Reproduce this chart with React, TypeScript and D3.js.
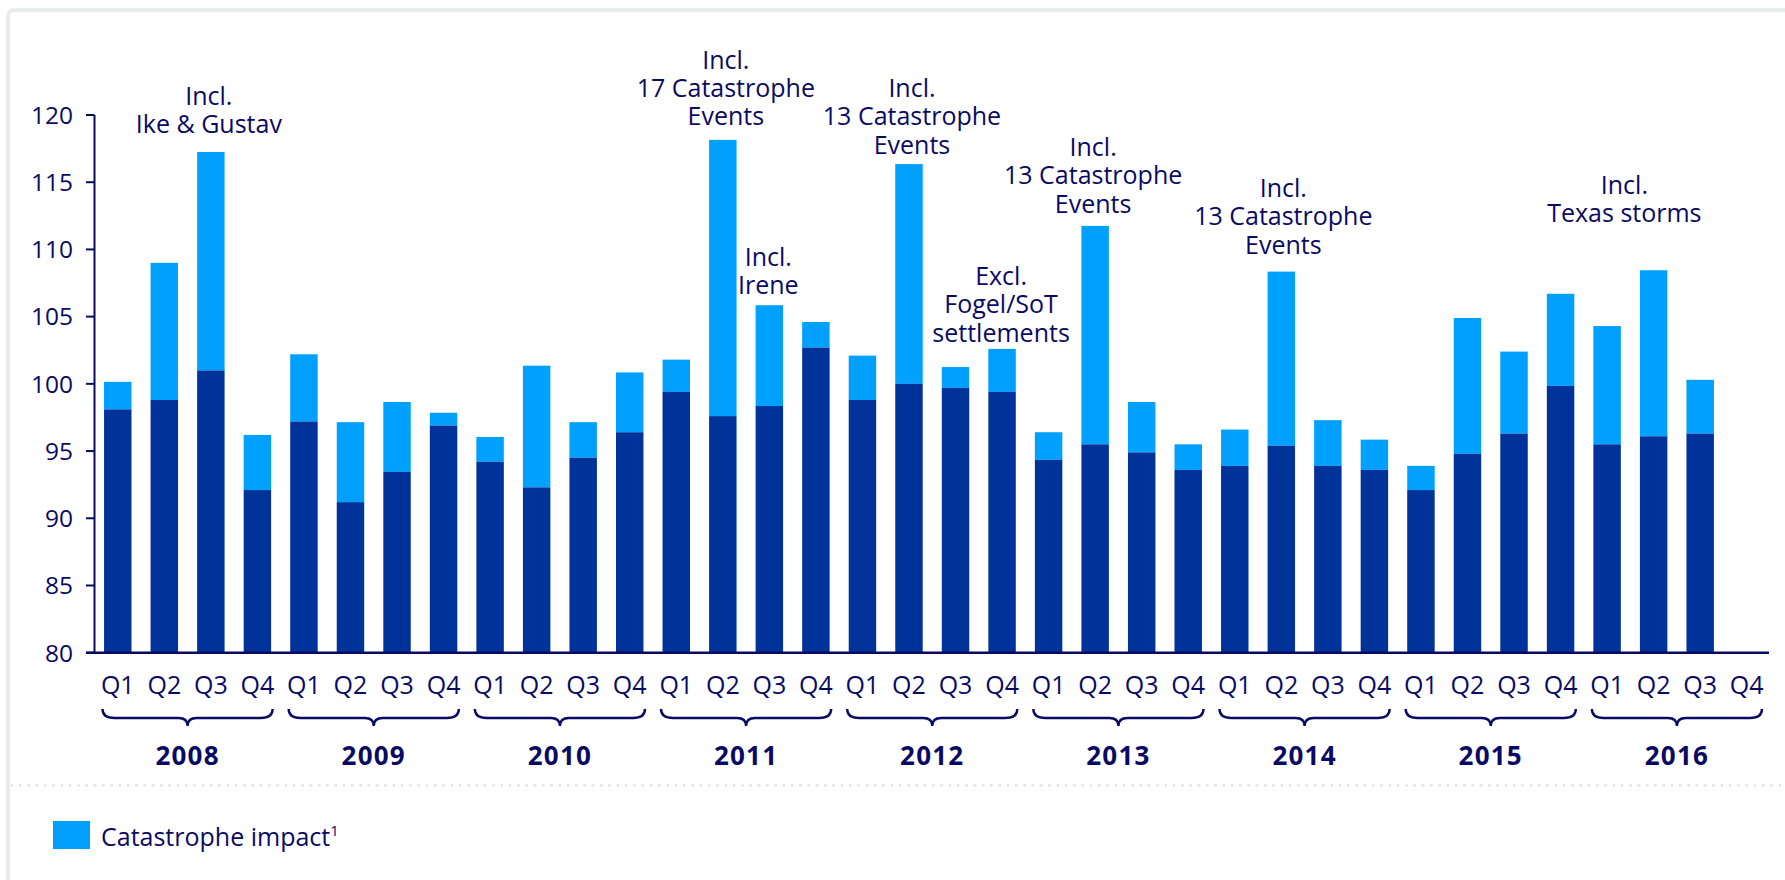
import React from "react";
import * as d3 from "d3";

const years = ["2008", "2009", "2010", "2011", "2012", "2013", "2014", "2015", "2016"];
const quarters = ["Q1", "Q2", "Q3", "Q4"];

// Combined ratio excluding catastrophe impact (dark bars)
const baseValues: (number | null)[] = [
  98.1, 98.8, 101.0, 92.1,
  97.2, 91.2, 93.45, 96.9,
  94.2, 92.3, 94.5, 96.4,
  99.4, 97.6, 98.35, 102.7,
  98.8, 100.0, 99.7, 99.4,
  94.35, 95.5, 94.9, 93.6,
  93.9, 95.4, 93.9, 93.6,
  92.1, 94.8, 96.3, 99.85,
  95.5, 96.1, 96.3, null,
];
// Total incl. catastrophe impact (light bars top)
const totalValues: (number | null)[] = [
  100.15, 109.0, 117.25, 96.2,
  102.2, 97.15, 98.65, 97.85,
  96.05, 101.35, 97.15, 100.85,
  101.8, 118.15, 105.85, 104.6,
  102.1, 116.35, 101.25, 102.6,
  96.4, 111.75, 98.65, 95.5,
  96.6, 108.35, 97.3, 95.85,
  93.9, 104.9, 102.4, 106.7,
  104.3, 108.45, 100.3, null,
];
const yTicks = [80, 85, 90, 95, 100, 105, 110, 115, 120];

const annotationTexts: string[][] = [
  ["Incl.", "Ike & Gustav"],
  ["Incl.", "17 Catastrophe", "Events"],
  ["Incl.", "13 Catastrophe", "Events"],
  ["Incl.", "Irene"],
  ["Excl.", "Fogel/SoT", "settlements"],
  ["Incl.", "13 Catastrophe", "Events"],
  ["Incl.", "13 Catastrophe", "Events"],
  ["Incl.", "Texas storms"],
];
const annotationIndex = [2, 13, 17, 14, 19, 21, 25, 32.5];
// layout: horizontal offset from bar centre, first-line baseline
const annotationLayout = [
  { dx: -2, y: 105 },
  { dx: 3, y: 68.5 },
  { dx: 3, y: 97 },
  { dx: -1, y: 265.5 },
  { dx: -1, y: 285 },
  { dx: -2, y: 156 },
  { dx: 2, y: 197 },
  { dx: -6, y: 194 },
];

const DARK = "#003399";
const LIGHT = "#00A0FF";
const NAVY = "#0A0A64";
const FONT = "'Open Sans', 'Noto Sans', sans-serif";

export default function App() {
  const W = 1785;
  const H = 880;
  const x0 = 94.5;
  const x1 = 1770;
  const yTop = 115;
  const yBottom = 652.7;

  const idx = d3.range(years.length * quarters.length);
  const x = d3.scaleBand<number>().domain(idx).range([x0, x1]).paddingInner(0.41).paddingOuter(0.205);
  const step = x.step();
  const y = d3.scaleLinear().domain([80, 120]).range([yBottom, yTop]);
  const centerOf = (i: number) => x0 + step * (i + 0.5);

  const lineH = 28.4;

  return (
    <div style={{ position: "absolute", left: 0, top: 0, width: W, height: H, background: "#fff" }}>
      <svg width={W} height={H} style={{ display: "block", fontFamily: FONT }}>
        {/* panel frame */}
        <rect x={8} y={10.3} width={W + 20} height={H + 40} rx={6} fill="none" stroke="#E6EBEB" strokeWidth={4} />

        {/* bars */}
        {idx.map((i) => {
          const b = baseValues[i];
          const t = totalValues[i];
          if (b == null || t == null) return null;
          return (
            <g key={i}>
              <rect x={x(i)} y={y(t)} width={x.bandwidth()} height={y(b) - y(t)} fill={LIGHT} />
              <rect x={x(i)} y={y(b)} width={x.bandwidth()} height={yBottom - y(b)} fill={DARK} />
            </g>
          );
        })}

        {/* y axis */}
        <line x1={x0} x2={x0} y1={yTop} y2={yBottom} stroke={NAVY} strokeWidth={2} />
        {yTicks.map((t) => (
          <g key={t}>
            <line x1={86} x2={x0} y1={y(t)} y2={y(t)} stroke={NAVY} strokeWidth={2} />
            <text x={73} y={y(t)} dy="0.36em" textAnchor="end" fontSize={24.5} fill={NAVY}>
              {t}
            </text>
          </g>
        ))}

        {/* x axis */}
        <line x1={86} x2={1769} y1={yBottom} y2={yBottom} stroke={NAVY} strokeWidth={2.5} />
        {idx.map((i) => (
          <text key={i} x={centerOf(i)} y={693.5} textAnchor="middle" fontSize={25} fill={NAVY}>
            {quarters[i % 4]}
          </text>
        ))}

        {/* year braces */}
        {years.map((yr, k) => {
          const a = x0 + step * 4 * k + 8;
          const b = x0 + step * 4 * (k + 1) - 8;
          const m = (a + b) / 2;
          const top = 709;
          const mid = 718;
          const tip = 726;
          const d = `M${a},${top} Q${a},${mid} ${a + 12},${mid} L${m - 9},${mid} Q${m},${mid} ${m},${tip} Q${m},${mid} ${m + 9},${mid} L${b - 12},${mid} Q${b},${mid} ${b},${top}`;
          return (
            <g key={yr}>
              <path d={d} fill="none" stroke={NAVY} strokeWidth={2.4} />
              <text x={m} y={765} textAnchor="middle" fontSize={26} fontWeight="bold" letterSpacing={1.2} fill={NAVY}>
                {yr}
              </text>
            </g>
          );
        })}

        {/* annotations */}
        {annotationTexts.map((lines, k) => {
          const cx = centerOf(annotationIndex[k]) + annotationLayout[k].dx;
          return (
            <text key={k} textAnchor="middle" fontSize={25} fill={NAVY}>
              {lines.map((ln, j) => (
                <tspan key={j} x={cx} y={annotationLayout[k].y + j * lineH}>
                  {ln}
                </tspan>
              ))}
            </text>
          );
        })}

        {/* dotted separator */}
        <line x1={12} x2={W} y1={785.5} y2={785.5} stroke="#E2E7E7" strokeWidth={3.2} strokeLinecap="round" strokeDasharray="0 8.3" />

        {/* legend */}
        <rect x={53} y={821} width={37} height={28} fill={LIGHT} />
        <text x={101} y={846} fontSize={25} fill={NAVY}>
          Catastrophe impact
          <tspan fontSize={15} dy={-10}>1</tspan>
        </text>
      </svg>
    </div>
  );
}
